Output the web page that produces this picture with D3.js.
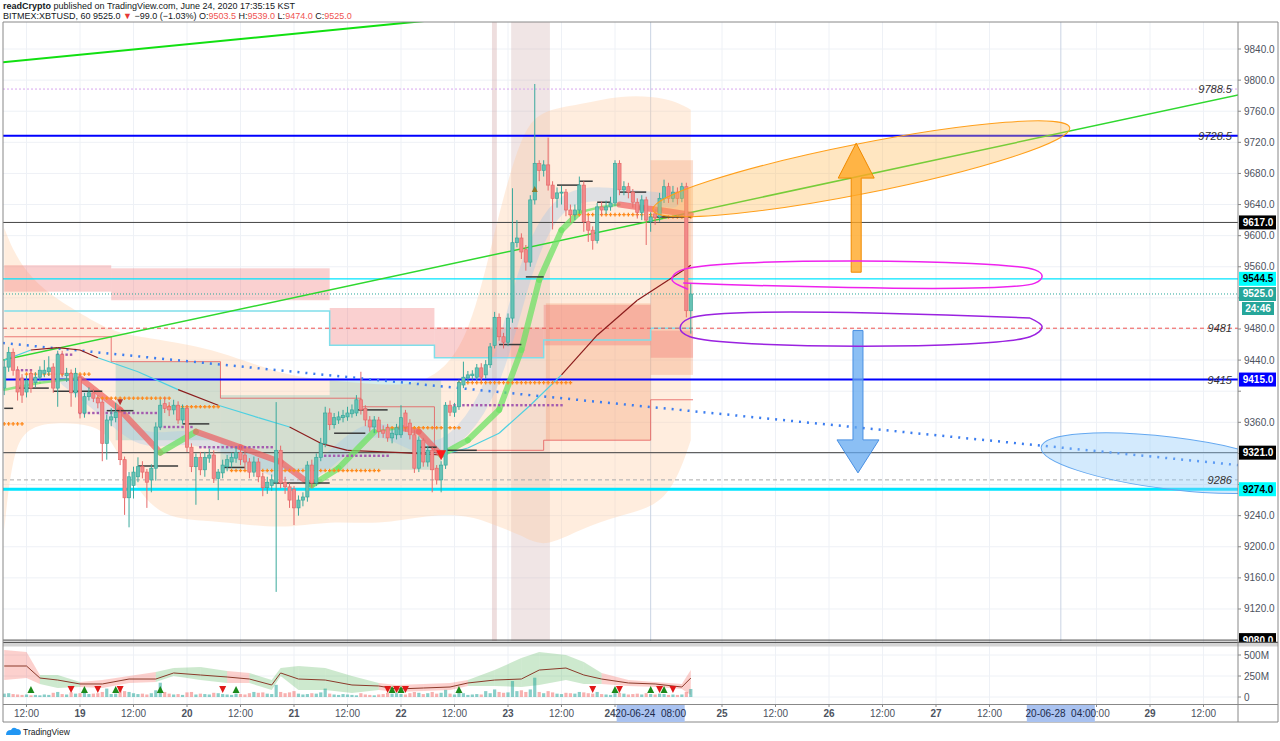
<!DOCTYPE html>
<html><head><meta charset="utf-8">
<script src="https://cdn.jsdelivr.net/npm/d3@7"></script>
<style>body{margin:0;background:#fff;}svg{display:block;font-family:"Liberation Sans",Arial,sans-serif;}</style>
</head><body><svg id="c" width="1280" height="741"></svg>
<script>
// ---------- DATA ----------
// hourly candles starting 2020-06-18 07:00 (index k)
const opens=[9404,9431,9450,9427,9417,9399,9423,9411,9418,9423,9425,9431,9404,9447,9420,9423,9398,9418,9372,9393,9398,9391,9386,9333,9363,9366,9373,9312,9263,9279,9290,9303,9296,9286,9301,9354,9384,9380,9376,9382,9363,9378,9328,9303,9315,9299,9314,9318,9288,9295,9303,9309,9314,9321,9318,9309,9296,9309,9290,9276,9279,9283,9324,9283,9277,9274,9250,9260,9264,9305,9282,9315,9333,9372,9357,9363,9366,9367,9371,9372,9389,9378,9363,9354,9363,9350,9353,9340,9344,9344,9372,9359,9344,9301,9337,9309,9324,9301,9286,9305,9382,9373,9380,9408,9417,9420,9418,9430,9421,9434,9459,9495,9470,9463,9494,9591,9597,9582,9566,9646,9693,9684,9691,9665,9648,9655,9656,9633,9627,9633,9665,9618,9607,9594,9637,9633,9637,9642,9693,9659,9663,9656,9643,9630,9646,9618,9628,9624,9648,9663,9648,9656,9648,9663,9503.5];
const highs=[9440,9457,9455,9432,9422,9420,9428,9424,9432,9440,9445,9436,9452,9452,9430,9428,9430,9422,9398,9405,9403,9395,9390,9370,9378,9385,9378,9316,9296,9303,9315,9310,9300,9306,9360,9389,9392,9386,9389,9387,9383,9382,9333,9320,9322,9322,9326,9324,9300,9312,9318,9321,9328,9330,9324,9314,9316,9314,9295,9290,9293,9386,9330,9290,9282,9278,9266,9270,9310,9312,9320,9340,9380,9378,9372,9374,9376,9380,9383,9395,9425,9382,9368,9368,9367,9356,9358,9352,9358,9382,9376,9364,9350,9342,9340,9330,9328,9305,9310,9386,9388,9385,9415,9438,9426,9427,9435,9436,9440,9462,9502,9500,9475,9500,9661,9620,9603,9588,9652,9795,9697,9697,9726,9670,9662,9664,9660,9640,9640,9676,9670,9625,9612,9642,9644,9645,9650,9697,9697,9670,9668,9660,9648,9652,9650,9630,9634,9655,9672,9668,9664,9662,9668,9668,9539];
const lows=[9395,9425,9420,9388,9385,9392,9398,9405,9414,9418,9420,9398,9380,9418,9412,9380,9392,9365,9366,9388,9386,9378,9310,9312,9355,9360,9305,9241,9225,9262,9283,9288,9250,9270,9285,9350,9372,9368,9370,9358,9358,9322,9296,9254,9292,9290,9308,9282,9260,9288,9297,9302,9308,9305,9300,9288,9290,9283,9265,9268,9272,9142,9275,9268,9250,9228,9240,9252,9258,9276,9278,9310,9328,9350,9352,9358,9360,9362,9366,9368,9370,9355,9348,9346,9340,9340,9335,9333,9338,9340,9348,9338,9295,9296,9303,9303,9270,9280,9270,9300,9368,9367,9376,9404,9412,9415,9414,9413,9416,9430,9455,9465,9455,9458,9488,9585,9570,9555,9560,9640,9670,9676,9658,9608,9636,9640,9625,9617,9620,9628,9605,9592,9582,9590,9626,9628,9632,9638,9652,9652,9648,9636,9622,9620,9588,9605,9614,9618,9642,9642,9643,9640,9643,9495,9474];
const closes=[9431,9450,9427,9399,9395,9414,9404,9418,9427,9427,9430,9404,9447,9423,9423,9398,9423,9372,9393,9398,9391,9385,9333,9363,9367,9373,9312,9263,9290,9296,9303,9296,9283,9301,9354,9382,9378,9376,9382,9363,9378,9328,9303,9315,9299,9315,9318,9288,9296,9305,9312,9315,9321,9312,9309,9296,9309,9290,9276,9283,9286,9324,9282,9277,9260,9250,9260,9264,9305,9282,9315,9333,9372,9357,9366,9367,9369,9372,9376,9389,9376,9363,9354,9363,9348,9346,9340,9346,9353,9366,9354,9344,9301,9337,9309,9324,9299,9286,9305,9382,9373,9380,9411,9418,9421,9422,9430,9418,9434,9457,9495,9470,9463,9494,9591,9597,9579,9566,9646,9693,9684,9691,9665,9648,9655,9656,9633,9627,9633,9665,9618,9607,9594,9637,9633,9637,9642,9693,9659,9663,9656,9643,9630,9646,9620,9624,9623,9648,9663,9648,9656,9648,9663,9503.5,9525];
const volumes=[40,45,35,30,25,30,20,25,20,30,25,50,60,35,30,55,40,45,70,35,40,45,60,100,35,40,90,70,60,45,35,40,30,45,80,170,60,40,30,35,25,55,60,30,40,35,30,50,45,35,30,25,40,35,30,45,60,50,55,40,35,145,60,45,55,70,40,30,35,45,40,55,100,40,30,25,35,30,25,20,45,30,25,20,30,35,50,40,45,35,30,45,60,50,35,45,60,40,50,85,40,30,50,45,25,30,35,30,70,45,90,60,50,55,190,70,80,60,90,230,60,45,70,55,40,35,50,45,40,60,55,45,40,60,35,30,25,45,50,40,30,35,40,30,45,35,30,40,35,25,30,25,30,60,95];

// axis ticks
const priceTicks=[9120,9160,9200,9240,9280,9320,9360,9400,9440,9480,9520,9560,9600,9640,9680,9720,9760,9800,9840];
const timeTickHours=[-12,0,12,24,36,48,60,72,84,96,108,120,144,156,168,180,192,204,228,240,252];
const timeTickLabels=["12:00","19","12:00","20","12:00","21","12:00","22","12:00","23","12:00","24","25","12:00","26","12:00","27","12:00","12:00","29","12:00"];
const volTicks=[0,250,500];
const volTickLabels=["0","250M","500M"];

// horizontal levels
const levelPrices=[9788.5,9728.5,9617,9544.5,9525,9481,9415,9321,9286,9274,9080];
const levelNames=["dotted","blue","black","cyan","last","reddash","blue","black","graydash","cyanthick","black"];
const levelTexts=["9788.5","9728.5","","","","9481","9415","","9286","",""];
const axisBadgePrices=[9617,9544.5,9525,9415,9321,9274,9080];
const axisBadgeKinds=["black","cyan","teal","blue","black","cyan","black"];

// trend lines: hours from 2020-06-19 00:00, price
const trendFromH=[-17.3,-17.3,-17.3], trendFromP=[9823,9440,9462];
const trendToH=[79,259.8,259.8], trendToP=[9877,9781,9305];
const trendKinds=["green","green2","bluedot"];

// moving averages / clouds
const ribbonK=[0,8,17,26,35,43,53,62,69,75,83,89,93,98,104,111,116,120,125,129,134,138,143,147,154];
const ribbonP=[9402,9411,9417,9376,9321,9348,9328,9309,9279,9301,9348,9353,9348,9318,9337,9376,9453,9543,9607,9630,9637,9640,9636,9633,9627];
const ribbonThick=[0,0,1,1,1,1,1,1,1,1,0,1,1,1,1,1,1,1,1,0,0,1,1,1];
const shadowK=[14,22,31,40,50,58,66,72,80,86,95,101,108,113,117,122,127,133,140,150];
const shadowP=[9415,9380,9330,9345,9330,9305,9285,9305,9350,9352,9320,9335,9385,9470,9560,9625,9650,9655,9650,9645];
const thinK=[0,6,12,17,21,30,39,48,57,64,71,77,89,98,104,111,118,125,133,142,149,154];
const thinP=[9440,9453,9456,9453,9443,9425,9402,9382,9366,9354,9333,9324,9321,9318,9327,9346,9382,9421,9472,9517,9543,9562];
const thinCol=["c","b","b","b","c","c","b","c","c","b","b","b","b","c","c","c","c","b","b","b","b"];
const bandK=[0,2,6,12,20,24,28,35,48,62,73,84,95,104,110,116,121,129,138,149,154];
const bandUpper=[9610,9580,9545,9517,9490,9479,9472,9466,9453,9421,9414,9408,9408,9459,9607,9736,9762,9768,9781,9778,9762];
const bandLower=[9222,9330,9355,9360,9357,9340,9290,9234,9234,9222,9234,9228,9241,9241,9228,9215,9198,9222,9241,9254,9337];
const redCloudK0=[0,24,73,96.5,121,145], redCloudK1=[24,73,96.5,121,145,154.5];
const redCloudTop=[9562,9558,9507,9482,9511,9478], redCloudBot=[9528,9517,9459,9443,9459,9443];
const tealK0=[25,48.5,73], tealK1=[48.5,73,98], tealTop=[9438,9395,9414], tealBot=[9337,9299,9299];
const boxK0=[121.5,145], boxK1=[145,154.5], boxTop=[9513,9697], boxBot=[9337,9421];
const redEdgeK=[0,24,24,48.5,48.5,80,80,96.5,96.5,121,121,145,145,154.5];
const redEdgeP=[9470,9470,9438,9438,9391,9391,9380,9380,9324,9324,9337,9337,9389,9389];
const cyanEdgeK=[0,73,73,96.5,96.5,121,121,145,145,154.5];
const cyanEdgeP=[9503,9503,9459,9459,9443,9443,9466,9466,9481,9481];

// marker rows
const orangeK0=[0,5,21,37,51,86,102,127,145], orangeK1=[4,19,37,48,84,102,127,145,154];
const orangeP=[9358,9422,9391,9380,9298,9353,9411,9627,9624];
const purpleK0=[3,12,17,35,44,72,101], purpleK1=[6,15,35,42,60,86,125];
const purpleP=[9427,9447,9372,9354,9328,9317,9382];
const pivotK0=[0,3,11,23,30,40,49,60,74,79,93,99,111,117,124,129,133,138,146];
const pivotK1=[2,10,22,29,39,46,54,73,81,86,97,106,116,121,129,132,136,144,154];
const pivotP=[9378,9404,9400,9375,9304,9358,9302,9282,9346,9376,9328,9324,9460,9547,9665,9670,9643,9656,9624];

// volume pane overlays
const volBandK=[0,5,8,12,17,22,28,34,38,44,50,55,60,62,66,72,78,84,88,94,100,104,110,116,120,126,130,134,140,146,152,154];
const volLine=[369,369,226,202,155,155,214,214,286,262,238,214,143,286,214,202,143,131,95,107,119,167,202,214,321,345,262,214,167,155,119,226];
const volUpper=[559,535,262,262,178,202,250,297,345,357,309,286,202,345,369,345,250,167,143,155,167,202,321,464,535,500,416,286,202,178,155,321];
const volLower=[202,226,155,107,119,107,167,178,250,202,167,167,83,250,83,83,48,83,60,71,83,131,131,119,143,202,155,155,131,119,95,24];
const volBandCol=["r","r","g","g","r","r","r","g","g","g","r","g","g","g","g","g","g","r","r","r","r","g","g","g","g","g","g","r","r","r","r"];
const upTriK=[6,18,25,35,52,87,89,102,137,145,148];
const downTriK=[15,21,26,49,86,88,90,132,138,147,150];

// drawings
const vBandH0=[92.4,96.7], vBandH1=[93.5,105.4];
const vLineH=[128,220];
const ellFromH=[128.5,215.6], ellFromP=[9633,9328], ellToH=[222,273.4], ellToP=[9739,9287];
const ellKinds=["orange","blue"];
const arrowH=[174.1,174.5], arrowFromP=[9553,9478], arrowToP=[9719,9295], arrowKinds=["orange","blue"];
const lassoUpH=[136.4,132.8,134.6,214.2,215.8,214.2,135.3];
const lassoUpP=[9531,9543,9555,9556,9548,9539,9539];
const lassoLoH=[213.1,136.8,134.6,136.8,213.1,215.8,213.1];
const lassoLoP=[9494,9494,9481,9470,9470,9483,9494];
const markH=[128,220], markLabels=["20-06-24  08:00","20-06-28  04:00"];
const sigUpK=[119], sigDownK=[26,98];

// ---------- DRAW ----------
const svg=d3.select("#c");
const base=new Date(2020,5,19,0).getTime();
const hd=h=>new Date(base+h*3600e3);
const kd=k=>hd(k-17);
const x=d3.scaleTime().domain([hd(0),hd(240)]).range([80,1150]);
const y=d3.scaleLinear().domain([9080,9840]).range([640.1,49]);
const yv=d3.scaleLinear().domain([0,500]).range([697,655]);
const L=3,R=1238,T=22,B=641,VT=646,VB=704;
const xk=k=>x(kd(k));

svg.append("rect").attr("width",1280).attr("height",741).attr("fill","#fff");
const defs=svg.append("defs");
defs.append("clipPath").attr("id","cm").append("rect").attr("x",L).attr("y",T).attr("width",R-L).attr("height",B-T);
defs.append("clipPath").attr("id","cv").append("rect").attr("x",L).attr("y",VT).attr("width",R-L).attr("height",VB-VT);
defs.append("clipPath").attr("id","ca").append("rect").attr("x",R).attr("y",T).attr("width",41).attr("height",B+1-T);

// grid
const grid=svg.append("g");
priceTicks.forEach(p=>grid.append("line").attr("x1",L).attr("x2",R).attr("y1",y(p)).attr("y2",y(p)).attr("stroke","#eef1f6"));
volTicks.forEach(v=>grid.append("line").attr("x1",L).attr("x2",R).attr("y1",yv(v)).attr("y2",yv(v)).attr("stroke","#eef1f6"));
timeTickHours.forEach(h=>{grid.append("line").attr("x1",x(hd(h))).attr("x2",x(hd(h))).attr("y1",T).attr("y2",VB).attr("stroke","#eef1f6");});

const m=svg.append("g").attr("clip-path","url(#cm)");
// vertical bands
vBandH0.forEach((h,i)=>m.append("rect").attr("x",x(hd(h))).attr("width",x(hd(vBandH1[i]))-x(hd(h))).attr("y",T).attr("height",B-T).attr("fill",i==0?"rgba(205,160,160,0.35)":"rgba(205,170,170,0.3)"));
vLineH.forEach(h=>m.append("line").attr("x1",x(hd(h))).attr("x2",x(hd(h))).attr("y1",T).attr("y2",B).attr("stroke","#c9d3e3"));

// peach band
const area=d3.area().x((d,i)=>xk(bandK[i])).y0((d,i)=>y(bandLower[i])).y1((d,i)=>y(bandUpper[i])).curve(d3.curveBasis);
m.append("path").attr("d",area(bandK)).attr("fill","rgba(255,204,160,0.35)");
// boxes
boxK0.forEach((k,i)=>m.append("rect").attr("x",xk(k)).attr("width",xk(boxK1[i])-xk(k)).attr("y",y(boxTop[i])).attr("height",y(boxBot[i])-y(boxTop[i])).attr("fill","rgba(240,140,90,0.28)"));
// clouds
tealK0.forEach((k,i)=>m.append("rect").attr("x",xk(k)).attr("width",xk(tealK1[i])-xk(k)).attr("y",y(tealTop[i])).attr("height",y(tealBot[i])-y(tealTop[i])).attr("fill","rgba(38,166,154,0.2)"));
redCloudK0.forEach((k,i)=>m.append("rect").attr("x",xk(k)).attr("width",xk(redCloudK1[i])-xk(k)).attr("y",y(redCloudTop[i])).attr("height",y(redCloudBot[i])-y(redCloudTop[i])).attr("fill","rgba(239,100,100,0.3)"));
const lk=d3.line().x((d,i)=>xk(d[0])).y(d=>y(d[1]));
m.append("path").attr("d",lk(redEdgeK.map((k,i)=>[k,redEdgeP[i]]))).attr("fill","none").attr("stroke","rgba(229,90,90,0.8)").attr("stroke-width",1);
m.append("path").attr("d",lk(cyanEdgeK.map((k,i)=>[k,cyanEdgeP[i]]))).attr("fill","none").attr("stroke","#80deea").attr("stroke-width",1.5);
// light-blue shadow ribbon
m.append("path").attr("d",d3.line().x((d,i)=>xk(shadowK[i])).y(d=>y(d)).curve(d3.curveBasis)(shadowP)).attr("fill","none").attr("stroke","rgba(150,195,240,0.3)").attr("stroke-width",14).attr("stroke-linecap","round");

// horizontal levels
const lvStyle={dotted:["#d7a6ef",1,"2,2"],blue:["#0000ff",2,null],black:["#444",1,null],cyan:["#00e5ff",1.2,null],last:["#26a69a",1,"1,2"],reddash:["#ef5350",1,"4,3"],graydash:["#aaa",1,"4,3"],cyanthick:["#00e5ff",3,null]};
levelPrices.forEach((p,i)=>{const s=lvStyle[levelNames[i]];m.append("line").attr("x1",L).attr("x2",R).attr("y1",y(p)).attr("y2",y(p)).attr("stroke",s[0]).attr("stroke-width",s[1]).attr("stroke-dasharray",s[2]);});

// trend lines
const tStyle={green:["#11e011",2,null],green2:["#2fd82f",1.5,null],bluedot:["#3b7df0",2.5,"2,6"]};
trendFromH.forEach((h,i)=>{const s=tStyle[trendKinds[i]];m.append("line").attr("x1",x(hd(h))).attr("y1",y(trendFromP[i])).attr("x2",x(hd(trendToH[i]))).attr("y2",y(trendToP[i])).attr("stroke",s[0]).attr("stroke-width",s[1]).attr("stroke-dasharray",s[2]);});

// thin MA
for(let i=0;i<thinK.length-1;i++){m.append("line").attr("x1",xk(thinK[i])).attr("y1",y(thinP[i])).attr("x2",xk(thinK[i+1])).attr("y2",y(thinP[i+1])).attr("stroke",thinCol[i]=="c"?"#4dd0e1":"#8b1c1c").attr("stroke-width",1.2);}
// ribbon
for(let i=0;i<ribbonK.length-1;i++){const up=ribbonP[i+1]>=ribbonP[i];m.append("line").attr("x1",xk(ribbonK[i])).attr("y1",y(ribbonP[i])).attr("x2",xk(ribbonK[i+1])).attr("y2",y(ribbonP[i+1])).attr("stroke",up?"rgba(110,225,100,0.75)":"rgba(240,95,95,0.7)").attr("stroke-width",ribbonThick[i]?6:2.5).attr("stroke-linecap","round");}

// marker rows
orangeK0.forEach((k0,i)=>{for(let k=k0;k<=orangeK1[i];k++){const cx=xk(k),cy=y(orangeP[i]);m.append("path").attr("d",`M${cx-1.8},${cy}H${cx+1.8}M${cx},${cy-1.8}V${cy+1.8}`).attr("stroke","#ff8a1c").attr("stroke-width",1.3);}});
purpleK0.forEach((k0,i)=>{for(let k=k0;k<=purpleK1[i];k++){m.append("rect").attr("x",xk(k)-1.2).attr("y",y(purpleP[i])-1.2).attr("width",2.4).attr("height",2.4).attr("fill","#a45bb0");}});
pivotK0.forEach((k0,i)=>m.append("line").attr("x1",xk(k0)).attr("x2",xk(pivotK1[i])).attr("y1",y(pivotP[i])).attr("y2",y(pivotP[i])).attr("stroke","#3a3a3a").attr("stroke-width",1.5));

// candles
const cg=m.append("g");
opens.forEach((o,k)=>{const c=closes[k],up=c>=o,cx=xk(k);const col=up?"#3aa99c":"#e66a6a",fill=up?"#66c2b5":"#f28b8b";
 cg.append("line").attr("x1",cx).attr("x2",cx).attr("y1",y(highs[k])).attr("y2",y(lows[k])).attr("stroke",col).attr("stroke-width",1);
 const yt=y(Math.max(o,c)),yb=y(Math.min(o,c));
 cg.append("rect").attr("x",cx-1.6).attr("width",3.2).attr("y",yt).attr("height",Math.max(1,yb-yt)).attr("fill",fill).attr("stroke",col).attr("stroke-width",0.7);});
sigUpK.forEach(k=>{const cx=xk(k);m.append("path").attr("d",`M${cx-3},${y(9660)+3}L${cx+3},${y(9660)+3}L${cx},${y(9660)-3}Z`).attr("fill","#8a7a2a");});
sigDownK.forEach((k,i)=>{const cx=xk(k),cy=y(highs[k])-6;const s=i==0?3:5;m.append("path").attr("d",`M${cx-s},${cy-s}L${cx+s},${cy-s}L${cx},${cy+s}Z`).attr("fill",i==0?"#b03030":"#ff1a1a");});

// ellipses
ellFromH.forEach((h,i)=>{const x1=x(hd(h)),y1=y(ellFromP[i]),x2=x(hd(ellToH[i])),y2=y(ellToP[i]);const cx=(x1+x2)/2,cy=(y1+y2)/2,rx=Math.hypot(x2-x1,y2-y1)/2,a=Math.atan2(y2-y1,x2-x1)*180/Math.PI;
 const o=ellKinds[i]=="orange";m.append("ellipse").attr("cx",cx).attr("cy",cy).attr("rx",rx).attr("ry",o?25:26).attr("transform",`rotate(${a},${cx},${cy})`).attr("fill",o?"rgba(255,183,77,0.35)":"rgba(144,202,249,0.4)").attr("stroke",o?"#ff9f1a":"#64a8f0").attr("stroke-width",1);});
// arrows
arrowH.forEach((h,i)=>{const cx=x(hd(h)),y0=y(arrowFromP[i]),y1=y(arrowToP[i]);const dir=y1<y0?-1:1;const o=arrowKinds[i]=="orange";const hw=o?18:21,hl=o?35:33,sw=5;
 const yh=y1-dir*hl;
 const d=`M${cx-sw},${y0}L${cx-sw},${yh}L${cx-hw},${yh}L${cx},${y1}L${cx+hw},${yh}L${cx+sw},${yh}L${cx+sw},${y0}Z`;
 m.append("path").attr("d",d).attr("fill",o?"rgba(255,167,38,0.8)":"rgba(100,170,240,0.75)").attr("stroke",o?"#f08a00":"#4a90e2").attr("stroke-width",1);});
// lasso shapes
const lh=d3.line().x(d=>x(hd(d[0]))).y(d=>y(d[1])).curve(d3.curveCatmullRom);
m.append("path").attr("d",lh(lassoUpH.map((h,i)=>[h,lassoUpP[i]]))).attr("fill","none").attr("stroke","#ee22ee").attr("stroke-width",1.5);
m.append("path").attr("d",lh(lassoLoH.map((h,i)=>[h,lassoLoP[i]]))).attr("fill","none").attr("stroke","#9a22e0").attr("stroke-width",1.5);

// level texts
levelPrices.forEach((p,i)=>{if(levelTexts[i])svg.append("text").attr("x",R-6).attr("y",y(p)+4).attr("text-anchor","end").attr("font-size",11).attr("font-style","italic").attr("fill","#333").text(levelTexts[i]);});

// volume pane
const v=svg.append("g").attr("clip-path","url(#cv)");
for(let i=0;i<volBandK.length-1;i++){const seg=[i,i+1];
 const a=d3.area().x(j=>xk(volBandK[j])).y0(j=>yv(volLower[j])).y1(j=>yv(volUpper[j])).curve(d3.curveLinear);
 v.append("path").attr("d",a(seg)).attr("fill",volBandCol[i]=="g"?"rgba(76,175,80,0.28)":"rgba(244,67,54,0.25)");}
volumes.forEach((vol,k)=>{const up=closes[k]>=opens[k];v.append("rect").attr("x",xk(k)-1.6).attr("width",3.2).attr("y",yv(vol)).attr("height",yv(0)-yv(vol)).attr("fill",up?"rgba(38,166,154,0.55)":"rgba(239,83,80,0.45)");});
v.append("path").attr("d",d3.line().x((d,i)=>xk(volBandK[i])).y(d=>yv(d))(volLine)).attr("fill","none").attr("stroke","#8b3a2a").attr("stroke-width",1);
upTriK.forEach(k=>{const cx=xk(k);v.append("path").attr("d",`M${cx-3.5},${693}L${cx+3.5},693L${cx},686Z`).attr("fill","#1b8a1b");});
downTriK.forEach(k=>{const cx=xk(k);v.append("path").attr("d",`M${cx-3.5},${686}L${cx+3.5},686L${cx},693Z`).attr("fill","#e01818");});

// price axis (ticks near badges hidden)
const ax=svg.append("g").attr("font-size",10).attr("fill","#4c525e");
const badgeY=axisBadgePrices.map(p=>y(p)).concat([y(9525)+14]);
priceTicks.forEach(p=>{ax.append("line").attr("x1",R).attr("x2",R+3).attr("y1",y(p)).attr("y2",y(p)).attr("stroke","#888");
 if(badgeY.every(by=>Math.abs(by-y(p))>12)) ax.append("text").attr("x",R+6).attr("y",y(p)+3.5).text(p.toFixed(1));});
volTicks.forEach((vv,i)=>{ax.append("line").attr("x1",R).attr("x2",R+3).attr("y1",yv(vv)).attr("y2",yv(vv)).attr("stroke","#888");ax.append("text").attr("x",R+6).attr("y",yv(vv)+3.5).text(volTickLabels[i]);});
const bStyle={black:["#000","#fff"],cyan:["#00ffff","#000"],teal:["#26a69a","#fff"],blue:["#0000ff","#fff"]};
const bg=ax.append("g").attr("clip-path","url(#ca)");
axisBadgePrices.forEach((p,i)=>{const s=bStyle[axisBadgeKinds[i]];const cy=y(p);bg.append("rect").attr("x",R+1).attr("y",cy-7).attr("width",37).attr("height",14).attr("fill",s[0]);bg.append("text").attr("x",R+20).attr("y",cy+3.5).attr("text-anchor","middle").attr("fill",s[1]).attr("font-weight","bold").text(p.toFixed(1));});
bg.append("rect").attr("x",R+4).attr("y",y(9525)+8).attr("width",32).attr("height",13).attr("fill","#26a69a");
bg.append("text").attr("x",R+20).attr("y",y(9525)+18).attr("text-anchor","middle").attr("fill","#fff").attr("font-weight","bold").text("24:46");

// frame & separators
svg.append("line").attr("x1",L).attr("x2",1278).attr("y1",T).attr("y2",T).attr("stroke","#888");
svg.append("line").attr("x1",L).attr("x2",1278).attr("y1",642.5).attr("y2",642.5).attr("stroke","#555").attr("stroke-width",1.5);
svg.append("rect").attr("x",L).attr("y",643.5).attr("width",1275).attr("height",3).attr("fill","#d4d4d4");
svg.append("line").attr("x1",L).attr("x2",1278).attr("y1",VB+0.5).attr("y2",VB+0.5).attr("stroke","#888");
svg.append("line").attr("x1",L).attr("x2",1278).attr("y1",722).attr("y2",722).attr("stroke","#888");
svg.append("line").attr("x1",L).attr("x2",L).attr("y1",T).attr("y2",722).attr("stroke","#888");
svg.append("line").attr("x1",R).attr("x2",R).attr("y1",T).attr("y2",722).attr("stroke","#888");
svg.append("line").attr("x1",1278).attr("x2",1278).attr("y1",T).attr("y2",722).attr("stroke","#888");

// time axis
const tx=svg.append("g").attr("font-size",10).attr("fill","#4c525e").attr("text-anchor","middle");
const boxX=markH.map(h=>x(hd(h)));
timeTickHours.forEach((h,i)=>{const tx0=x(hd(h));tx.append("line").attr("x1",tx0).attr("x2",tx0).attr("y1",VB).attr("y2",VB+3).attr("stroke","#888");
 const hit=boxX.find(bx=>Math.abs(bx-tx0)<52);
 if(hit===undefined) tx.append("text").attr("x",tx0).attr("y",717).attr("font-weight",timeTickLabels[i].length<3?"bold":"normal").text(timeTickLabels[i]);
 else if(tx0>hit+30) tx.append("text").attr("x",hit+35).attr("y",717).attr("text-anchor","start").text(timeTickLabels[i].slice(2));
 else if(tx0<hit-30) tx.append("text").attr("x",hit-35).attr("y",717).attr("text-anchor","end").attr("font-weight","bold").text(timeTickLabels[i]);
});
markH.forEach((h,i)=>{const cx=x(hd(h));tx.append("rect").attr("x",cx-34).attr("y",VB+1).attr("width",68).attr("height",17).attr("fill","#a9c2f0");tx.append("text").attr("x",cx).attr("y",717).attr("fill","#1c2a4a").attr("xml:space","preserve").text(markLabels[i]);});

// header
const hdr=svg.append("g").attr("font-size",9).attr("fill","#131722");
const l1=hdr.append("text").attr("x",3).attr("y",9);
l1.append("tspan").attr("font-weight","bold").text("readCrypto");
l1.append("tspan").text(" published on TradingView.com, June 24, 2020 17:35:15 KST");
const l2=hdr.append("text").attr("x",3).attr("y",19);
l2.append("tspan").text("BITMEX:XBTUSD, 60 9525.0 ");
l2.append("tspan").attr("fill","#e53935").text("▼");
l2.append("tspan").text(" −99.0 (−1.03%) O:");
l2.append("tspan").attr("fill","#ef5350").text("9503.5");
l2.append("tspan").text(" H:");
l2.append("tspan").attr("fill","#ef5350").text("9539.0");
l2.append("tspan").text(" L:");
l2.append("tspan").attr("fill","#ef5350").text("9474.0");
l2.append("tspan").text(" C:");
l2.append("tspan").attr("fill","#ef5350").text("9525.0");

// footer logo
const ft=svg.append("g");
ft.append("path").attr("d","M6,735 q0,-5 5,-5 q2,-4 6,-1 q4,0 4,4 q0,2 -2,2 Z").attr("fill","#2196f3");
ft.append("text").attr("x",23).attr("y",735).attr("font-size",8.5).attr("fill","#131722").text("TradingView");
</script></body></html>
